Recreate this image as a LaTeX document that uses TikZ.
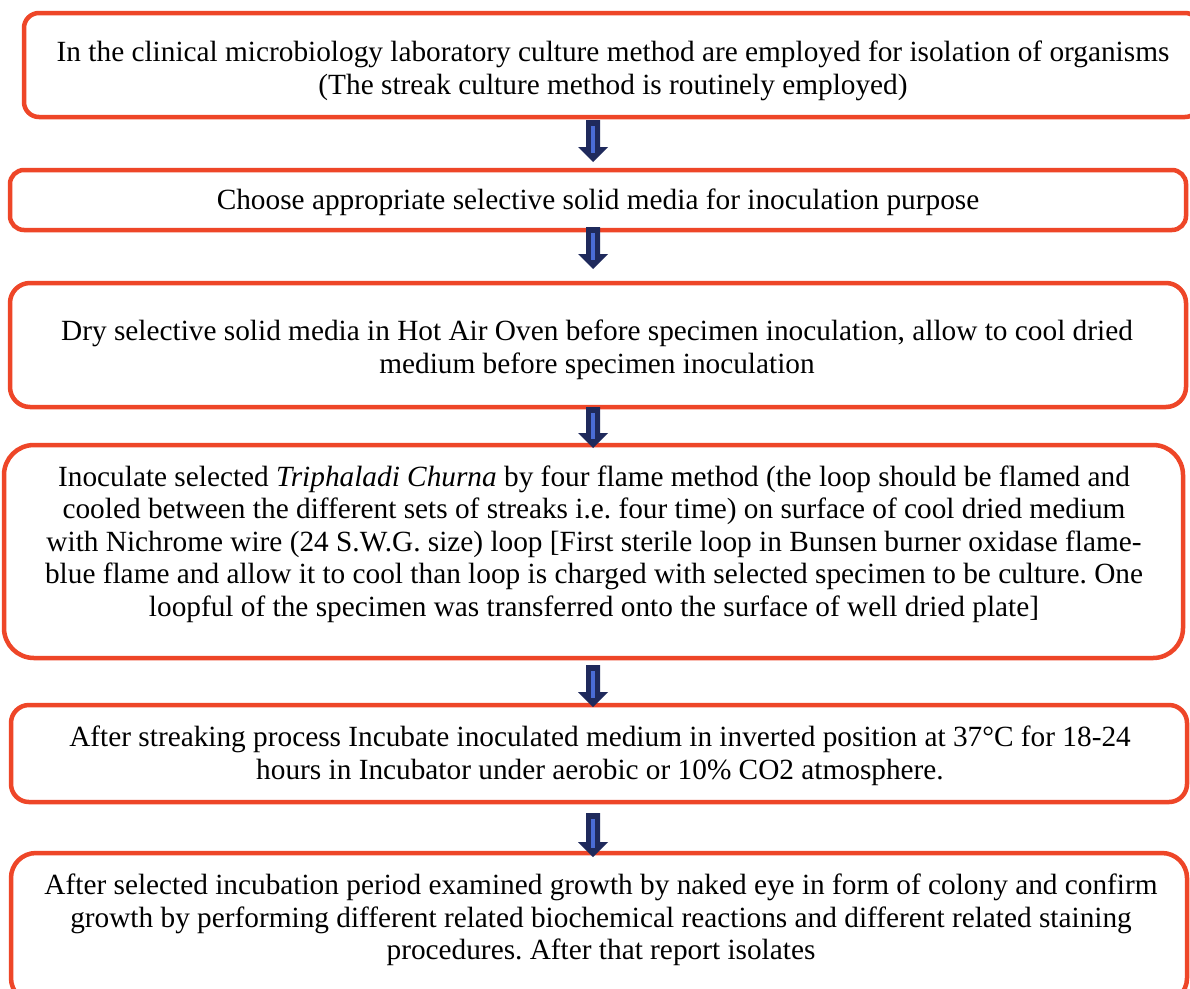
\documentclass[tikz,border=0pt]{standalone}
\usepackage{fontspec}
\setmainfont{Liberation Serif}
\usetikzlibrary{calc}
\definecolor{boxred}{RGB}{238,70,40}
\definecolor{navy}{RGB}{31,42,92}
\definecolor{stripeblue}{RGB}{74,108,214}
\newcommand\flowarrow[2]{%
  \fill[navy] ($(#1)+(-7,0)$) -- ($(#2)+(-7,-15)$) -- ($(#2)+(-15,-15)$) -- (#2)
    -- ($(#2)+(15,-15)$) -- ($(#2)+(7,-15)$) -- ($(#1)+(7,0)$) -- cycle;
  \draw[stripeblue, line width=4pt] ($(#1)+(0,6)$) -- ($(#2)+(0,-9)$);}
\frenchspacing
\begin{document}
\begin{tikzpicture}[x=1pt,y=-1pt,
  box/.style={draw=boxred, line width=4.5pt, outer sep=0pt, inner sep=0pt, fill=white},
  txt/.style={align=center, font=\fontsize{29.3}{32.6}\selectfont, inner sep=0pt, text=black}]
\clip (0,0) rectangle (1190,988);
\fill[white] (0,0) rectangle (1190,988);
% boxes
\node[box, rounded corners=15pt, minimum width=1176pt, minimum height=104pt] (b1) at (612,65) {};
\node[box, rounded corners=14pt, minimum width=1176pt, minimum height=60pt] (b2) at (598,200) {};
\node[box, rounded corners=20pt, minimum width=1176pt, minimum height=124pt] (b3) at (598,345) {};
\node[box, rounded corners=30pt, minimum width=1179pt, minimum height=213pt] (b4) at (593.5,551.5) {};
\node[box, rounded corners=18pt, minimum width=1176pt, minimum height=97pt] (b5) at (599,753.5) {};
\node[box, rounded corners=25pt, minimum width=1176pt, minimum height=150pt] (b6) at (599,928) {};
% texts
\node[txt] (t1) at (613,71) {In the clinical microbiology laboratory culture method are employed for isolation of organisms\\(The streak culture method is routinely employed)};
\node[txt] (t2) at (598,202) {Choose appropriate selective solid media for inoculation purpose};
\node[txt] (t3) at (597,350) {Dry selective solid media in Hot Air Oven before specimen inoculation, allow to cool dried\\medium before specimen inoculation};
\node[txt] (t4) at (594,544) {Inoculate selected \textit{Triphaladi Churna} by four flame method (the loop should be flamed and\\cooled between the different sets of streaks i.e. four time) on surface of cool dried medium\\with Nichrome wire (24 S.W.G. size) loop [First sterile loop in Bunsen burner oxidase flame-\\blue flame and allow it to cool than loop is charged with selected specimen to be culture. One\\loopful of the specimen was transferred onto the surface of well dried plate]};
\node[txt] (t5) at (600,756) {After streaking process Incubate inoculated medium in inverted position at 37°C for 18-24\\hours in Incubator under aerobic or 10\% CO2 atmosphere.};
\node[txt] (t6) at (601,920) {After selected incubation period examined growth by naked eye in form of colony and confirm\\growth by performing different related biochemical reactions and different related staining\\procedures. After that report isolates};
% arrows
\coordinate (ax) at (593,0);
\path (b1.south -| ax) ++(0,3) coordinate (a1s);
\path (b2.north -| ax) ++(0,-8) coordinate (a1e);
\path (b2.south -| ax) ++(0,-3) coordinate (a2s);
\path (b3.north -| ax) ++(0,-14) coordinate (a2e);
\path (b3.south -| ax) ++(0,0) coordinate (a3s);
\path (b4.north -| ax) ++(0,3) coordinate (a3e);
\path (b4.south -| ax) ++(0,7) coordinate (a4s);
\path (b5.north -| ax) ++(0,2) coordinate (a4e);
\path (b5.south -| ax) ++(0,11) coordinate (a5s);
\path (b6.north -| ax) ++(0,4) coordinate (a5e);
\flowarrow{a1s}{a1e}
\flowarrow{a2s}{a2e}
\flowarrow{a3s}{a3e}
\flowarrow{a4s}{a4e}
\flowarrow{a5s}{a5e}
\end{tikzpicture}
\end{document}
